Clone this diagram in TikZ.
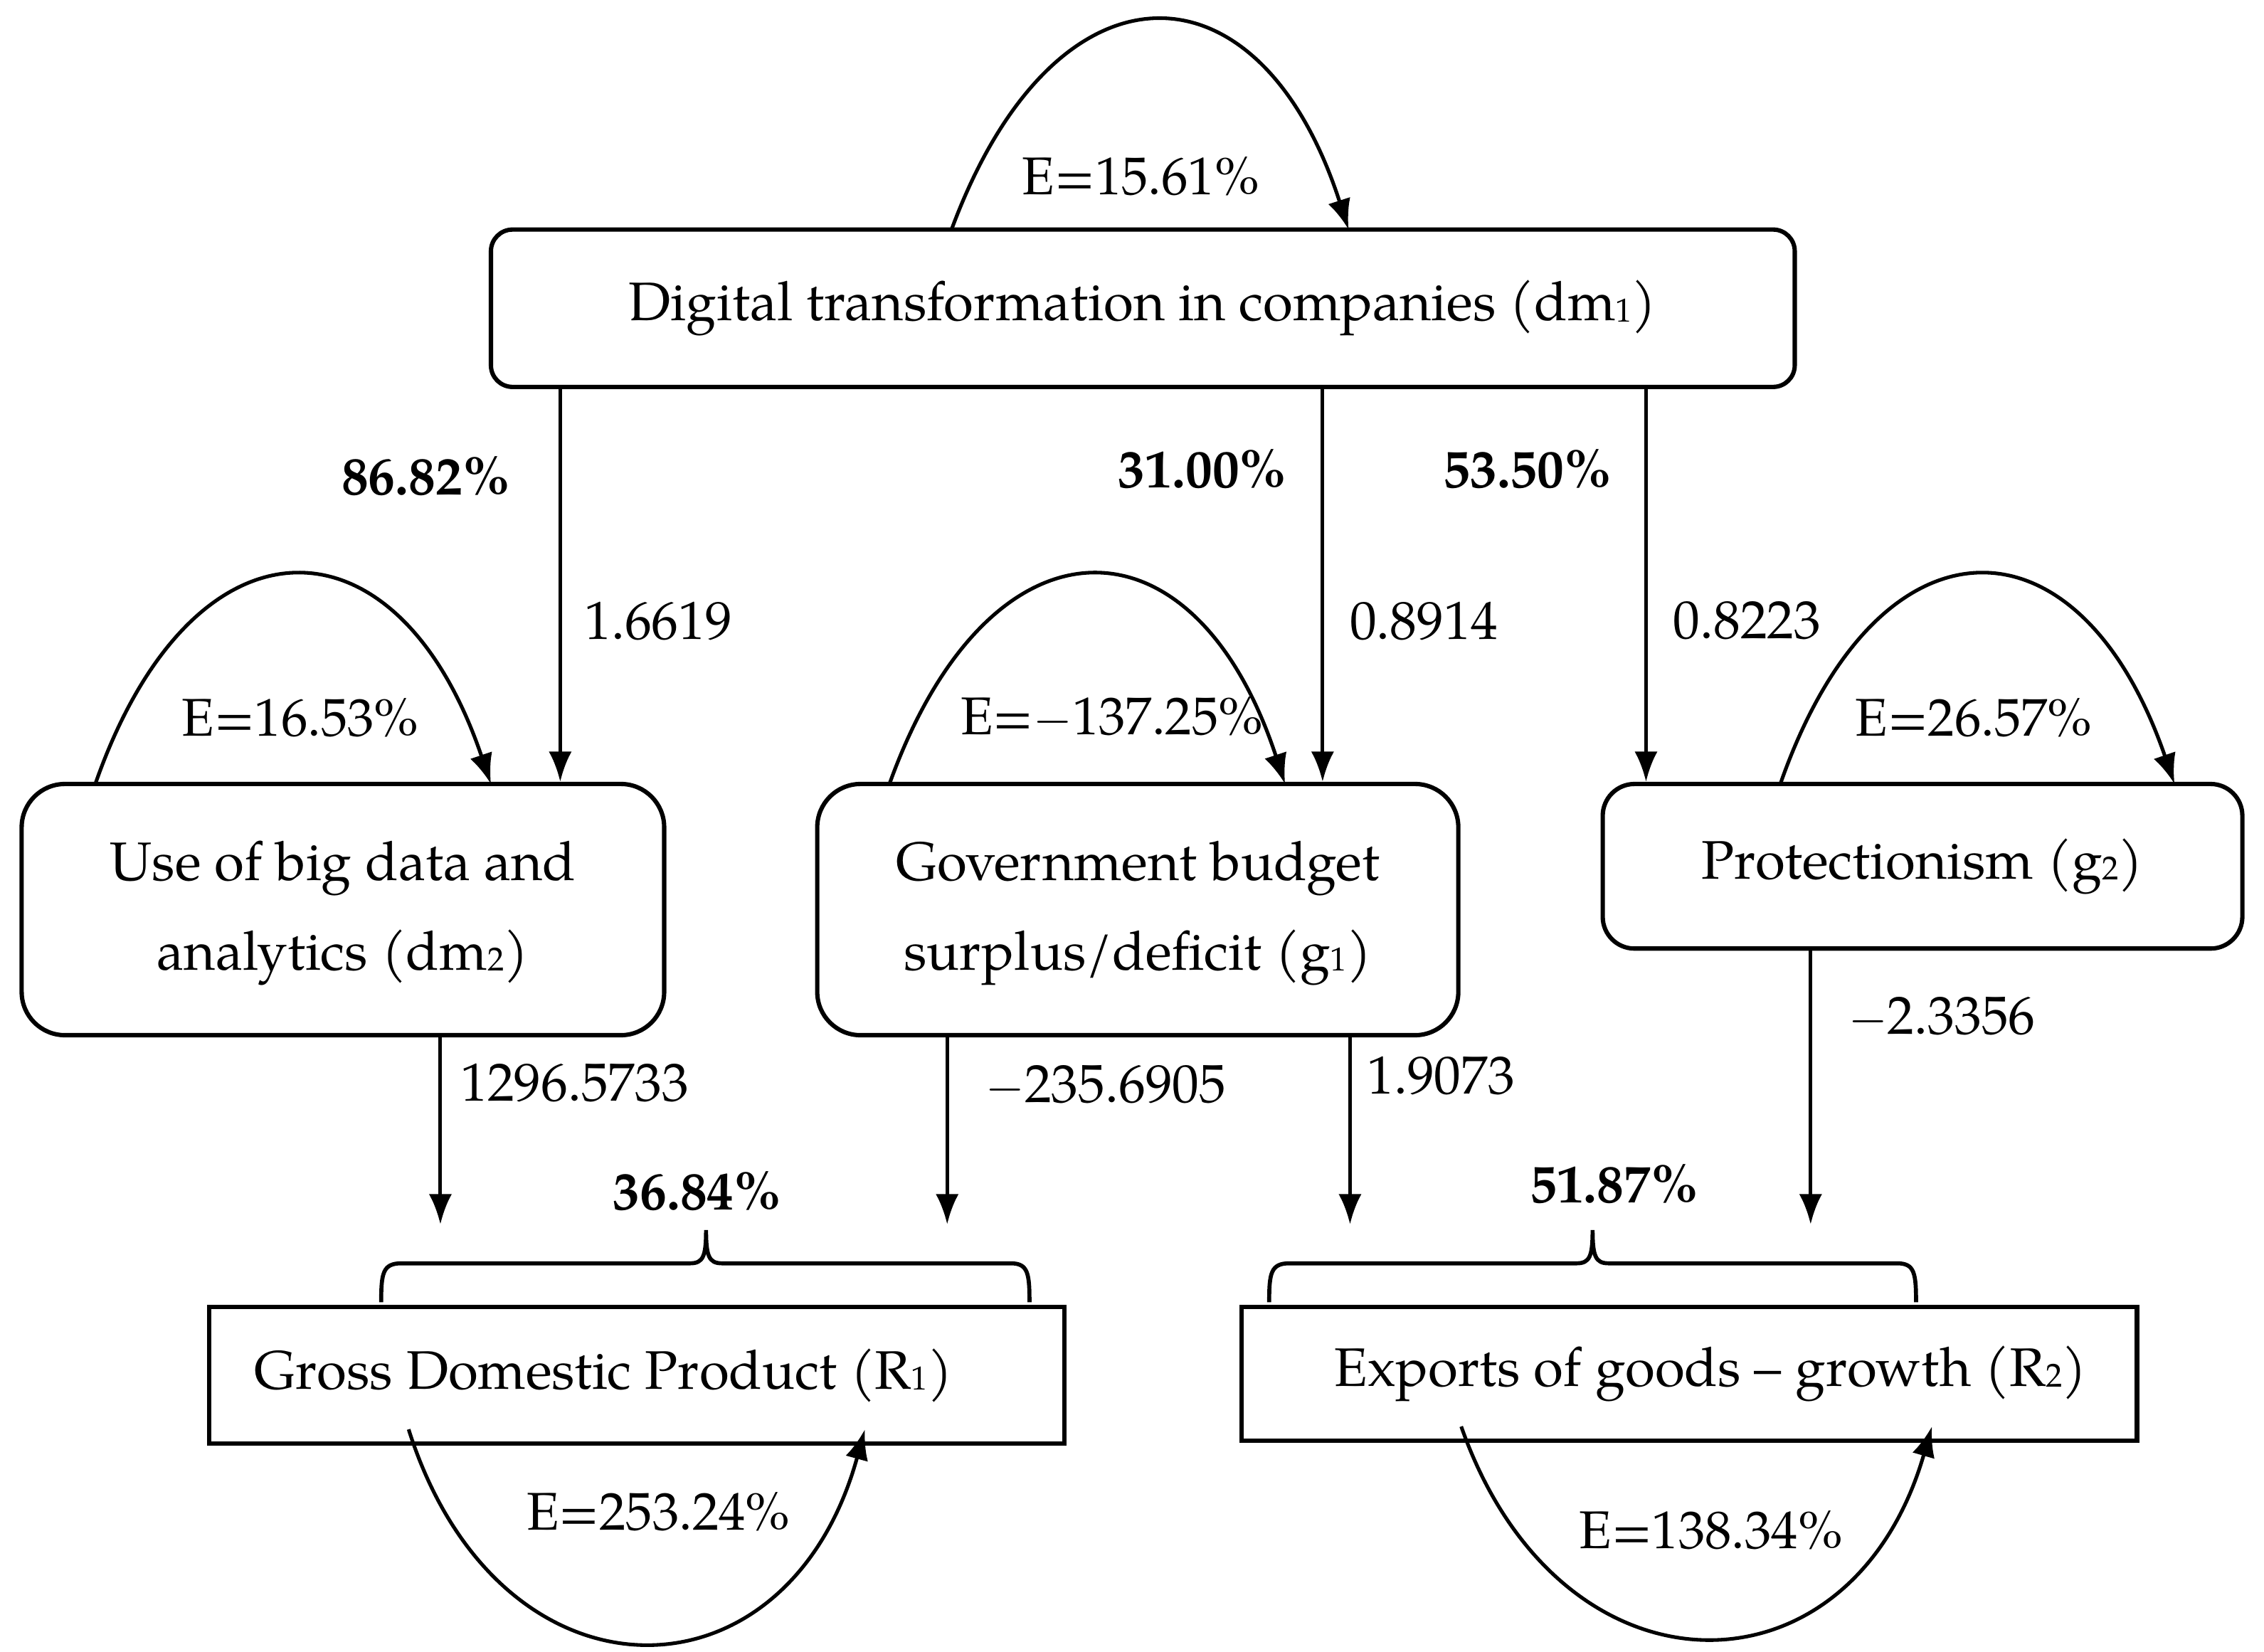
\documentclass[tikz,border=0pt]{standalone}
\usepackage{fontspec}
\setmainfont{TeX Gyre Pagella}
\usetikzlibrary{arrows.meta}
\newcommand\sx[1]{\raisebox{-0.3pt}{\fontsize{11.5}{11.5}\selectfont #1}}
\begin{document}
\begin{tikzpicture}[x=0.5pt,y=-0.5pt,
  every node/.style={font=\fontsize{18.6}{22}\selectfont, inner sep=0pt},
  box/.style={draw, line width=1.5pt, align=center, font=\fontsize{18.8}{22}\selectfont},
  arr/.style={-{Latex[length=10.5pt,width=8pt]}, line width=1.25pt},
  pct/.style={font=\fontsize{18.6}{22}\selectfont\bfseries},
  eff/.style={font=\fontsize{18.4}{22}\selectfont},
  brc/.style={line width=1.4pt},
  two/.style={font=\fontsize{18.8}{31}\selectfont}]
\useasboundingbox (0,0) rectangle (1568,1144);

% boxes
\node[box, rounded corners=7.5pt, minimum width=451.5pt, minimum height=54.5pt] (dm1) at (791.5,213.5) {Digital transformation in companies (dm\sx{1})};
\node[box, two, rounded corners=15pt, minimum width=222.5pt, minimum height=87pt] (dm2) at (237.5,630) {\rule{0pt}{16pt}Use of big data and\\analytics (dm\sx{2})};
\node[box, two, rounded corners=15pt, minimum width=222pt, minimum height=87pt] (g1) at (788,630) {\rule{0pt}{16pt}Government budget\\surplus/deficit (g\sx{1})};
\node[box, rounded corners=11pt, minimum width=221.5pt, minimum height=57pt] (g2) at (1331.5,600) {Protectionism (g\sx{2})};
\node[box, minimum width=296pt, minimum height=47.5pt] (R1) at (441,952.5) {Gross Domestic Product (R\sx{1})\hspace{23pt}};
\node[box, minimum width=310pt, minimum height=46.5pt] (R2) at (1170,951.5) {\hspace{15pt}Exports of goods -- growth (R\sx{2})};

% coordinates for vertical connectors
\coordinate (xa) at (388,0);
\coordinate (xb) at (916,0);
\coordinate (xc) at (1140,0);
\coordinate (e1) at (305,848);
\coordinate (e2) at (656,848);
\coordinate (e3) at (935,848);
\coordinate (e4) at (1254,848);

\draw[arr] (dm1.south -| xa) -- (dm2.north -| xa);
\draw[arr] (dm1.south -| xb) -- (g1.north -| xb);
\draw[arr] (dm1.south -| xc) -- (g2.north -| xc);
\draw[arr] (dm2.south -| e1) -- (e1);
\draw[arr] (g1.south -| e2) -- (e2);
\draw[arr] (g1.south -| e3) -- (e3);
\draw[arr] (g2.south -| e4) -- (e4);

% self loops
\coordinate (l1s) at (659,159);  \coordinate (l1e) at (934,159);
\coordinate (l2s) at (66,543);   \coordinate (l2e) at (340,543);
\coordinate (l3s) at (616,543);  \coordinate (l3e) at (890,543);
\coordinate (l4s) at (1233,543); \coordinate (l4e) at (1506,543);
\coordinate (l5s) at (283,990);  \coordinate (l5e) at (599,990);
\coordinate (l6s) at (1012,988); \coordinate (l6e) at (1338,988);
\draw[arr] (l1s) .. controls (730,-33) and (872,-33) .. (l1e);
\draw[arr] (l2s) .. controls (133,351) and (275,351) .. (l2e);
\draw[arr] (l3s) .. controls (685,351) and (827,351) .. (l3e);
\draw[arr] (l4s) .. controls (1300,351) and (1440,351) .. (l4e);
\draw[arr] (l5s) .. controls (345,1186) and (545,1186) .. (l5e);
\draw[arr] (l6s) .. controls (1080,1182) and (1282,1182) .. (l6e);

% braces
\draw[brc] (264,902) .. controls (264,882) and (265,875) .. (278,875) -- (478,875)
  .. controls (487,875) and (489,870) .. (489,852)
  .. controls (489,870) and (491,875) .. (500,875) -- (700,875)
  .. controls (712,875) and (713,882) .. (713,902);
\draw[brc] (879,902) .. controls (879,882) and (880,875) .. (893,875) -- (1092,875)
  .. controls (1101,875) and (1103,870) .. (1103,852)
  .. controls (1103,870) and (1105,875) .. (1114,875) -- (1314,875)
  .. controls (1326,875) and (1327,882) .. (1327,902);

% labels
\node[eff] (t1) at (790,122) {E=15.61\%};
\node[pct] (p1) at (295,330) {86.82\%};
\node (c1) at (456,430) {1.6619};
\node[pct] (p2) at (833,325) {31.00\%};
\node (c2) at (986,430) {0.8914};
\node[pct] (p3) at (1058,325) {53.50\%};
\node (c3) at (1210,430) {0.8223};
\node[eff] (t2) at (208,497) {E=16.53\%};
\node[eff] (t3) at (770,497) {E=$-$137.25\%};
\node[eff] (t4) at (1367,497) {E=26.57\%};
\node (c4) at (398,750) {1296.5733};
\node (c5) at (766,752) {$-$235.6905};
\node (c6) at (998,745) {1.9073};
\node (c7) at (1345,705) {$-$2.3356};
\node[pct] (p4) at (483,825) {36.84\%};
\node[pct] (p5) at (1118,820) {51.87\%};
\node[eff] (t5) at (456,1047) {E=253.24\%};
\node[eff] (t6) at (1185,1060) {E=138.34\%};
\end{tikzpicture}
\end{document}
